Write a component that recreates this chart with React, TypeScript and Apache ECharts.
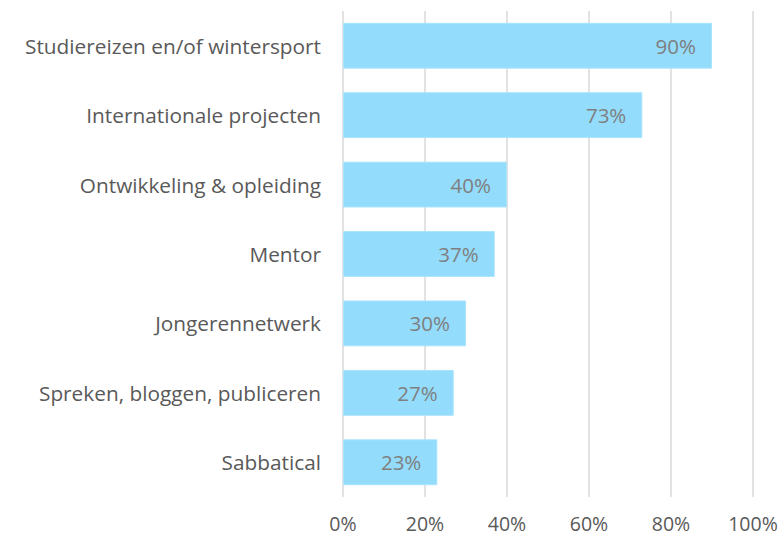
import React, { useEffect, useRef } from "react";
import * as echarts from "echarts";

const categories = [
  "Studiereizen en/of wintersport",
  "Internationale projecten",
  "Ontwikkeling & opleiding",
  "Mentor",
  "Jongerennetwerk",
  "Spreken, bloggen, publiceren",
  "Sabbatical",
];
const values = [90, 73, 40, 37, 30, 27, 23];
const xTicks = [0, 20, 40, 60, 80, 100];

export default function App() {
  const ref = useRef<HTMLDivElement>(null);
  useEffect(() => {
    if (!ref.current) return;
    const chart = echarts.init(ref.current, null, { renderer: "svg" });
    const font = "'Open Sans', 'Noto Sans', sans-serif";
    chart.setOption({
      animation: false,
      grid: { left: 343, right: 31, top: 11, bottom: 41, containLabel: false },
      xAxis: {
        type: "value",
        min: xTicks[0],
        max: xTicks[xTicks.length - 1],
        interval: 20,
        axisLine: { show: false },
        axisTick: { show: false },
        splitLine: { show: true, lineStyle: { color: "#d9d9d9", width: 1.5 } },
        axisLabel: {
          color: "#595959",
          fontSize: 19.5,
          fontFamily: font,
          margin: 16,
          formatter: (v: number) => `${v}%`,
        },
      },
      yAxis: {
        type: "category",
        data: categories,
        inverse: true,
        axisLine: { show: false },
        axisTick: { show: false },
        splitLine: { show: false },
        axisLabel: {
          color: "#595959",
          fontSize: 20.8,
          fontFamily: font,
          margin: 22,
        },
      },
      series: [
        {
          type: "bar",
          data: values,
          barCategoryGap: "34%",
          itemStyle: { color: "#93dcfc", borderColor: "#a9e3fc", borderWidth: 1 },
          label: {
            show: true,
            position: "insideRight",
            distance: 16,
            color: "#7f7f7f",
            fontSize: 20.5,
            fontFamily: font,
            formatter: (p: any) => `${p.value}%`,
          },
        },
      ],
    });
    return () => chart.dispose();
  }, []);
  return (
    <div
      ref={ref}
      style={{ position: "fixed", left: 0, top: 0, width: 784, height: 538, background: "#fff" }}
    />
  );
}
